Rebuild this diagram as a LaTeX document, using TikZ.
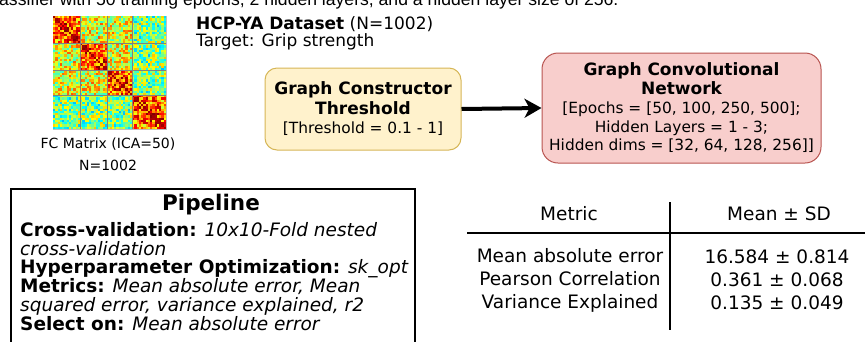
\documentclass[tikz,border=0pt]{standalone}
\usepackage{fontspec}
\setmainfont{DejaVu Sans}
\newfontfamily\capfont{Liberation Sans}
\usetikzlibrary{arrows.meta}
\definecolor{yfill}{HTML}{FFF2CC}
\definecolor{ydraw}{HTML}{D6B656}
\definecolor{rfill}{HTML}{F8CECC}
\definecolor{rdraw}{HTML}{B85450}
\newcommand{\bxb}[1]{{\fontsize{17}{19}\selectfont\bfseries #1}}
\tikzset{
  flowbox/.style={rounded corners=12pt, line width=1pt, align=center, inner sep=0pt,
    font=\fontsize{15.4}{19}\selectfont},
  lbl/.style={inner sep=0pt, font=\fontsize{17}{19}\selectfont},
  tabtxt/.style={inner sep=0pt, font=\fontsize{18.5}{23}\selectfont, align=center},
}
\begin{document}
\begin{tikzpicture}[x=1pt,y=-1pt]
\useasboundingbox (0,0) rectangle (865,341);
\clip (0,0) rectangle (865,341);
% caption (cropped)
\node[inner sep=0pt, anchor=base west, font=\capfont\fontsize{17.6}{20}\selectfont] (cap) at (-1,5)
  {assifier with 50 training epochs, 2 hidden layers, and a hidden layer size of 256.};
% heatmap
\def\cs{2.26}
\pgfmathsetseed{23}
\foreach \i in {0,...,49}{
  \foreach \j in {\i,...,49}{
    \pgfmathtruncatemacro{\bi}{(\i>11)+(\i>23)+(\i>34)}
    \pgfmathtruncatemacro{\bj}{(\j>11)+(\j>23)+(\j>34)}
    \pgfmathsetmacro{\base}{ifthenelse(\bi==\bj,0.72+0.12*(1-min(1,abs(\i-\j)/10)),ifthenelse(\bj==3,0.50,0.60))}
    \pgfmathsetmacro{\v}{ifthenelse(\i==\j,0.97,max(0,min(1,\base+0.19*rand)))}
    \pgfmathsetmacro{\rr}{max(0,min(1,1.5-abs(4*\v-3)))}
    \pgfmathsetmacro{\gg}{max(0,min(1,1.5-abs(4*\v-2)))}
    \pgfmathsetmacro{\bb}{max(0,min(1,1.5-abs(4*\v-1)))}
    \definecolor{hm}{rgb}{\rr,\gg,\bb}
    \fill[hm] (53+\j*\cs,16+\i*\cs) rectangle ++(\cs,\cs);
    \fill[hm] (53+\i*\cs,16+\j*\cs) rectangle ++(\cs,\cs);
  }
}
\foreach \k in {12,24,35}{
  \draw[black!50, line width=0.35pt] (53+\k*\cs,16) -- (53+\k*\cs,129);
  \draw[black!50, line width=0.35pt] (53,16+\k*\cs) -- (166,16+\k*\cs);
}
\draw[black!25, line width=0.8pt] (53,129) -- (166,129) -- (166,16);
\node[inner sep=0pt, font=\fontsize{14}{16}\selectfont] (fclbl) at (108,144) {FC Matrix (ICA=50)};
\node[inner sep=0pt, font=\fontsize{14}{16}\selectfont] (fcn) at (108,165) {N=1002};
% dataset text
\node[lbl, anchor=west] (ds) at (196,24) {\textbf{HCP-YA Dataset} (N=1002)};
\node[lbl, anchor=west] (tg) at (196,42) {Target: Grip strength};
% boxes
\node[flowbox, font=\fontsize{15.4}{19.5}\selectfont, fill=yfill, draw=ydraw, minimum width=196pt, minimum height=82pt] (gc) at (363,109)
  {\bxb{Graph Constructor}\\\bxb{Threshold}\\{}[Threshold = 0.1 - 1]};
\node[flowbox, font=\fontsize{15.4}{18.75}\selectfont, fill=rfill, draw=rdraw, rounded corners=16pt, minimum width=279pt, minimum height=110pt] (gcn) at (681.5,108)
  {\bxb{Graph Convolutional}\\\bxb{Network}\\{}[Epochs = [50, 100, 250, 500];\\Hidden Layers = 1 - 3;\\Hidden dims = [32, 64, 128, 256]]};
\draw[line width=4pt, -{Stealth[length=17pt,width=19pt,inset=5pt]}] (gc.east) -- (gcn.west);
% pipeline
\draw[line width=2pt] (11,360) -- (11,189) coordinate (pl) -- (415,189) coordinate (pr) -- (415,360);
\node[inner sep=0pt, font=\bfseries\fontsize{21.5}{24}\selectfont] (pt) at (211,205) {Pipeline};
\node[inner sep=0pt, anchor=north west, align=left, font=\fontsize{18.5}{18.8}\selectfont] (pbody) at (20,222)
  {\textbf{Cross-validation:} \textit{10x10-Fold nested}\\
   \textit{cross-validation}\\
   \textbf{Hyperparameter Optimization:} \textit{sk\_opt}\\
   \textbf{Metrics:} \textit{Mean absolute error, Mean}\\
   \textit{squared error, variance explained, r2}\\
   \textbf{Select on:} \textit{Mean absolute error}};
% table
\coordinate (hl) at (467,233);
\coordinate (hr) at (865,233);
\coordinate (vt) at (670,202);
\coordinate (vb) at (670,330);
\draw[line width=2pt] (hl) -- (hr);
\draw[line width=2pt] (vt) -- (vb);
\node[tabtxt] (m1) at (569,214) {Metric};
\node[tabtxt] (m2) at (779,214) {Mean ± SD};
\node[tabtxt] (c1) at (570,280) {Mean absolute error\\Pearson Correlation\\Variance Explained};
\node[tabtxt] (c2) at (777,280) {16.584 ± 0.814\\0.361 ± 0.068\\0.135 ± 0.049};
\end{tikzpicture}
\end{document}
